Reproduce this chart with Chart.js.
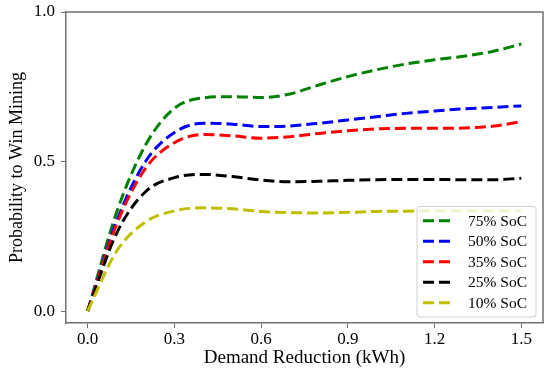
<!DOCTYPE html>
<html>
<head>
<meta charset="utf-8">
<script src="https://cdn.jsdelivr.net/npm/chart.js@4"></script>
<style>
  html, body { margin: 0; padding: 0; background: #fff; }
  #wrap { width: 550px; height: 374px; }
</style>
</head>
<body>
<div id="wrap"><canvas id="chart"></canvas></div>
<script>
const demandReduction = [0, 0.1, 0.2, 0.3, 0.4, 0.5, 0.6, 0.7, 0.8, 0.9, 1.0, 1.1, 1.2, 1.3, 1.4, 1.5];
const soc75 = [0, 0.33, 0.555, 0.678, 0.713, 0.717, 0.714, 0.726, 0.756, 0.784, 0.807, 0.826, 0.840, 0.852, 0.868, 0.893];
const soc50 = [0, 0.30, 0.500, 0.597, 0.628, 0.625, 0.617, 0.619, 0.628, 0.639, 0.650, 0.661, 0.669, 0.676, 0.681, 0.686];
const soc35 = [0, 0.29, 0.477, 0.563, 0.590, 0.586, 0.578, 0.583, 0.594, 0.603, 0.609, 0.611, 0.611, 0.612, 0.618, 0.633];
const soc25 = [0, 0.26, 0.399, 0.446, 0.457, 0.450, 0.438, 0.432, 0.434, 0.437, 0.439, 0.440, 0.440, 0.439, 0.439, 0.444];
const soc10 = [0, 0.20, 0.298, 0.335, 0.345, 0.342, 0.333, 0.329, 0.328, 0.330, 0.333, 0.334, 0.335, 0.335, 0.335, 0.335];

const seriesLabels = ["75% SoC", "50% SoC", "35% SoC", "25% SoC", "10% SoC"];
const seriesColors = ["#008000", "#0000ff", "#ff0000", "#000000", "#bfbf00"];
const xTicks = [0, 0.3, 0.6, 0.9, 1.2, 1.5];
const yTicks = [0, 0.5, 1.0];

const serif = "'Liberation Serif', 'DejaVu Serif', serif";
const frameColor = "#707070";

function makeSet(label, values, color, order) {
  return {
    label: label,
    data: demandReduction.map((x, i) => ({ x: x, y: values[i] })),
    borderColor: color,
    backgroundColor: color,
    borderWidth: 3,
    borderDash: [11, 5],
    pointRadius: 0,
    fill: false,
    cubicInterpolationMode: "monotone",
    order: order,
  };
}

// top + right spines
const framePlugin = {
  id: "frame",
  afterDraw(chart) {
    const { ctx, chartArea: a } = chart;
    ctx.save();
    ctx.strokeStyle = frameColor;
    ctx.lineWidth = 1.5;
    ctx.beginPath();
    ctx.moveTo(a.left, a.top);
    ctx.lineTo(a.right, a.top);
    ctx.lineTo(a.right, a.bottom);
    ctx.stroke();
    ctx.restore();
  },
};

// legend box in the lower right corner of the plot
const insideLegend = {
  id: "insideLegend",
  afterDatasetsDraw(chart) {
    const { ctx, chartArea: a } = chart;
    const boxW = 119, rowH = 20.5, boxH = rowH * seriesLabels.length + 8;
    const x0 = a.right - boxW - 7, y0 = a.bottom - boxH - 6;
    ctx.save();
    ctx.beginPath();
    ctx.roundRect(x0, y0, boxW, boxH, 3);
    ctx.fillStyle = "rgba(255,255,255,0.8)";
    ctx.fill();
    ctx.strokeStyle = "#d0d0d0";
    ctx.lineWidth = 1;
    ctx.stroke();
    ctx.font = "15.5px " + serif;
    ctx.textBaseline = "middle";
    chart.data.datasets.forEach((ds, i) => {
      const cy = y0 + 4 + rowH * i + rowH / 2;
      ctx.strokeStyle = ds.borderColor;
      ctx.lineWidth = 3;
      ctx.setLineDash([11, 5]);
      ctx.beginPath();
      ctx.moveTo(x0 + 6, cy);
      ctx.lineTo(x0 + 38, cy);
      ctx.stroke();
      ctx.setLineDash([]);
      ctx.fillStyle = "#000";
      ctx.fillText(ds.label, x0 + 51, cy + 1);
    });
    ctx.restore();
  },
};

new Chart(document.getElementById("chart"), {
  type: "line",
  data: {
    datasets: [
      makeSet(seriesLabels[0], soc75, seriesColors[0], 4),
      makeSet(seriesLabels[1], soc50, seriesColors[1], 3),
      makeSet(seriesLabels[2], soc35, seriesColors[2], 2),
      makeSet(seriesLabels[3], soc25, seriesColors[3], 1),
      makeSet(seriesLabels[4], soc10, seriesColors[4], 0),
    ],
  },
  options: {
    responsive: true,
    maintainAspectRatio: false,
    animation: false,
    layout: { padding: { top: 12, right: 7, left: 0, bottom: 0 } },
    plugins: {
      legend: { display: false },
      tooltip: { enabled: false },
    },
    scales: {
      x: {
        type: "linear",
        min: -0.075,
        max: 1.575,
        afterBuildTicks: (s) => { s.ticks = xTicks.map((v) => ({ value: v })); },
        afterFit: (s) => { s.height = 51; s.paddingLeft = 0; s.paddingRight = 0; },
        border: { display: true, color: frameColor, width: 1.5 },
        grid: { drawOnChartArea: false, drawTicks: true, tickLength: 5, color: frameColor, lineWidth: 1 },
        ticks: {
          color: "#000",
          padding: 1,
          font: { family: serif, size: 17 },
          maxRotation: 0,
          callback: (v) => Number(v).toFixed(1),
        },
        title: {
          display: true,
          text: "Demand Reduction (kWh)",
          color: "#000",
          font: { family: serif, size: 19 },
          padding: { top: 0, bottom: 5 },
        },
      },
      y: {
        type: "linear",
        min: -0.04,
        max: 1.0,
        afterBuildTicks: (s) => { s.ticks = yTicks.map((v) => ({ value: v })); },
        afterFit: (s) => { s.width = 66; s.paddingTop = 0; s.paddingBottom = 0; },
        border: { display: true, color: frameColor, width: 1.5 },
        grid: { drawOnChartArea: false, drawTicks: true, tickLength: 5, color: frameColor, lineWidth: 1 },
        ticks: {
          color: "#000",
          padding: 6,
          font: { family: serif, size: 17 },
          callback: (v) => Number(v).toFixed(1),
        },
        title: {
          display: true,
          text: "Probability to Win Mining",
          color: "#000",
          font: { family: serif, size: 18 },
          padding: { top: 6, bottom: 0 },
        },
      },
    },
  },
  plugins: [framePlugin, insideLegend],
});
</script>
</body>
</html>
